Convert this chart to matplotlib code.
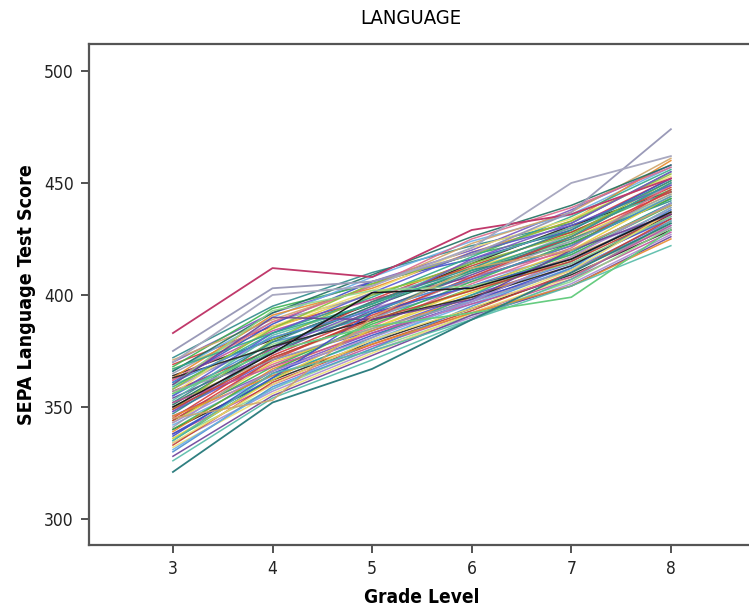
"""Spaghetti plot: SEPA language score trajectories across grades 3-8."""
import matplotlib
matplotlib.use("Agg")
import matplotlib.pyplot as plt

plt.rcParams["font.family"] = ["DejaVu Sans"]
plt.rcParams["font.stretch"] = "condensed"

GRADES = [3, 4, 5, 6, 7, 8]

# a few distinctive trajectories
STUDENT_CRIMSON = [383, 412, 408, 429, 436, 452]
STUDENT_GRAY_TOP = [375, 403, 406, 418, 437, 474]
STUDENT_GRAY_2 = [370, 400, 404, 421, 450, 462]
STUDENT_TEAL_LOW = [321, 352, 367, 389, 410, 432]
STUDENT_PURPLE_DIP = [345, 353, 390, 412, 420, 440]
STUDENT_GREEN_DIP = [356, 375, 386, 392, 399, 429]
STUDENT_RED_LOW = [335, 365, 375, 389, 404, 422]
STUDENT_BLACK = [350, 374, 401, 403, 416, 437]
STUDENT_TEAL_FLAT = [360, 390, 389, 398, 420, 436]

# the rest of the bundle (one row per student, grades 3..8)
OTHER_STUDENTS = [
    [372, 395, 410, 422, 432, 455],
    [370, 392, 406, 420, 438, 458],
    [369, 386, 398, 415, 430, 452],
    [368, 394, 405, 418, 428, 447],
    [367, 385, 401, 412, 425, 445],
    [366, 390, 408, 424, 436, 457],
    [365, 388, 400, 410, 427, 449],
    [364, 380, 396, 414, 431, 446],
    [363, 391, 403, 419, 433, 460],
    [362, 384, 398, 408, 420, 440],
    [361, 387, 406, 416, 429, 452],
    [360, 378, 392, 411, 424, 444],
    [359, 383, 399, 417, 435, 456],
    [358, 381, 394, 406, 418, 438],
    [357, 376, 397, 413, 428, 448],
    [356, 386, 402, 421, 434, 453],
    [355, 379, 390, 404, 419, 441],
    [354, 374, 393, 409, 426, 450],
    [353, 382, 396, 415, 430, 446],
    [352, 372, 388, 402, 417, 436],
    [351, 377, 395, 411, 423, 443],
    [350, 369, 386, 405, 421, 449],
    [349, 380, 400, 414, 427, 451],
    [348, 371, 384, 400, 414, 434],
    [347, 375, 392, 410, 425, 442],
    [346, 366, 383, 398, 411, 433],
    [345, 373, 391, 407, 422, 447],
    [344, 368, 387, 403, 418, 440],
    [343, 370, 385, 401, 416, 437],
    [342, 364, 380, 396, 412, 431],
    [341, 372, 389, 408, 424, 445],
    [340, 362, 379, 394, 409, 429],
    [339, 367, 384, 399, 415, 439],
    [338, 360, 377, 392, 407, 428],
    [337, 365, 382, 397, 413, 435],
    [336, 358, 376, 391, 406, 430],
    [335, 363, 381, 400, 419, 441],
    [334, 357, 375, 390, 405, 427],
    [333, 361, 378, 393, 410, 434],
    [332, 356, 374, 392, 408, 432],
    [330, 359, 376, 395, 412, 438],
    [328, 355, 373, 391, 404, 426],
    [326, 354, 371, 389, 407, 433],
    [371, 389, 404, 423, 437, 461],
    [366, 392, 409, 426, 440, 458],
    [362, 388, 404, 425, 439, 457],
    [358, 385, 405, 418, 433, 454],
    [355, 383, 401, 419, 431, 449],
    [352, 379, 397, 412, 429, 451],
    [348, 376, 394, 416, 432, 455],
    [344, 371, 390, 408, 426, 446],
    [340, 366, 388, 406, 423, 443],
    [336, 362, 385, 403, 420, 444],
    [331, 358, 379, 398, 415, 439],
    [357, 371, 385, 397, 411, 430],
    [363, 377, 389, 399, 413, 436],
    [346, 364, 378, 392, 404, 425],
    [352, 368, 383, 396, 408, 431],
    [338, 363, 392, 404, 416, 437],
    [360, 393, 402, 404, 414, 435],
    [367, 383, 396, 411, 426, 450],
    [343, 366, 381, 397, 417, 441],
    [349, 372, 389, 402, 415, 436],
    [334, 360, 380, 394, 411, 437],
    [361, 381, 393, 407, 422, 444],
]

Y_TICKS = [300, 350, 400, 450, 500]

# SPSS-ish line palette, cycled over the students
PALETTE = [
    "#2f8a8a", "#7a56c0", "#d43c3c", "#3cb450", "#e6d040", "#6aaee6",
    "#9a9ab0", "#222222", "#e88a2a", "#c0509a", "#3a4fc8", "#8fd88a",
    "#30aa8c", "#a88ad0", "#c2402e", "#eede70", "#4a8ed0", "#6a3f98",
    "#55bba8", "#cfa468", "#1f7060", "#de6a8c", "#88c03a", "#5a5ad0",
]


def main():
    fig = plt.figure(figsize=(7.49, 6.14), dpi=100)
    ax = fig.add_axes([0.1188, 0.1124, 0.889, 0.816])

    students = OTHER_STUDENTS + [
        STUDENT_TEAL_FLAT, STUDENT_RED_LOW, STUDENT_PURPLE_DIP,
    ]
    for i, scores in enumerate(students):
        ax.plot(GRADES, scores, color=PALETTE[i % len(PALETTE)], lw=1.1, alpha=0.9)

    ax.plot(GRADES, STUDENT_GREEN_DIP, color="#66cc80", lw=1.2)
    ax.plot(GRADES, STUDENT_CRIMSON, color="#c0396b", lw=1.3)
    ax.plot(GRADES, STUDENT_GRAY_TOP, color="#9a9ab8", lw=1.3)
    ax.plot(GRADES, STUDENT_GRAY_2, color="#a8a8c0", lw=1.3)
    ax.plot(GRADES, STUDENT_TEAL_LOW, color="#2f7f80", lw=1.3)
    ax.plot(GRADES, STUDENT_BLACK, color="#1a1a1a", lw=1.1)

    ax.set_xlim(2.157, 8.843)
    ax.set_ylim(288.4, 512.05)
    ax.set_xticks(GRADES)
    ax.set_yticks(Y_TICKS)
    ax.tick_params(direction="out", length=6, width=1.3, color="#444444",
                   labelsize=12.5, labelcolor="#222222", pad=5)

    for side in ("left", "bottom", "top"):
        ax.spines[side].set_color("#555555")
        ax.spines[side].set_linewidth(1.6)
    ax.spines["right"].set_visible(False)

    ax.set_xlabel("Grade Level", fontsize=13.7, fontweight="bold", labelpad=7)
    ax.set_ylabel("SEPA Language Test Score", fontsize=14, fontweight="bold", labelpad=6)
    fig.text(411 / 749, 1 - 18 / 614, "LANGUAGE", ha="center", va="center", fontsize=14.5)

    fig.savefig("out.png", dpi=100)


if __name__ == "__main__":
    main()
